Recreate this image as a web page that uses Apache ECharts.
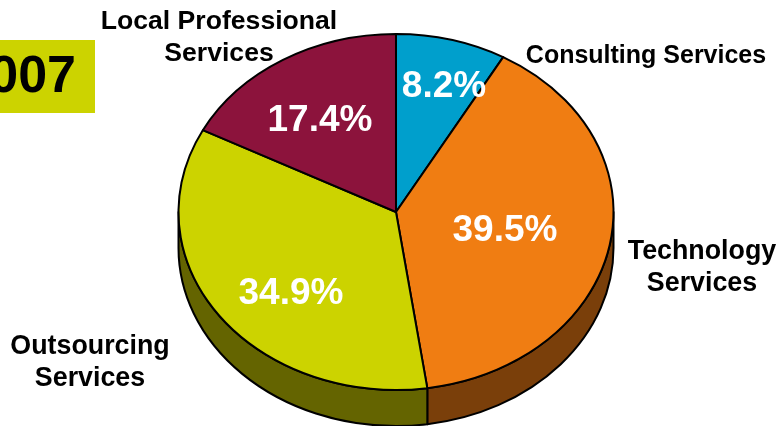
<!DOCTYPE html>
<html>
<head>
<meta charset="utf-8">
<style>html,body{margin:0;padding:0;background:#fff}#chart{width:784px;height:426px}</style>
<script src="https://cdn.jsdelivr.net/npm/echarts@6/dist/echarts.min.js"></script>
</head>
<body>
<div id="chart"></div>
<script>
// Revenue mix by service line, 2007
const categories = ['Consulting Services', 'Technology\nServices', 'Outsourcing\nServices', 'Local Professional\nServices'];
const shares = [8.2, 39.5, 34.9, 17.4];
const yearLabel = '2007';

const topColors = ['#009FCC', '#F07D12', '#CCD300', '#8C133C'];
const wallColors = ['#005F7A', '#7A3F0A', '#646400', '#4A0A20'];

// Tilted disc geometry
const cx = 396, cy = 212, rx = 217.5, ry = 178, depth = 36;
const total = shares.reduce((a, b) => a + b, 0);

const point = (deg, dy = 0) => {
  const t = deg * Math.PI / 180;
  return [cx + rx * Math.sin(t), cy - ry * Math.cos(t) + dy];
};
const startAngle = i => shares.slice(0, i).reduce((a, b) => a + b, 0) / total * 360;
const endAngle = i => startAngle(i) + shares[i] / total * 360;
const fmt = p => p[0].toFixed(2) + ' ' + p[1].toFixed(2);

const sectorPath = (a, b) => {
  const large = b - a > 180 ? 1 : 0;
  return `M${cx} ${cy}L${fmt(point(a))}A${rx} ${ry} 0 ${large} 1 ${fmt(point(b))}Z`;
};
const wallPath = (a, b) => {
  const large = b - a > 180 ? 1 : 0;
  return `M${fmt(point(a))}A${rx} ${ry} 0 ${large} 1 ${fmt(point(b))}` +
         `L${fmt(point(b, depth))}A${rx} ${ry} 0 ${large} 0 ${fmt(point(a, depth))}Z`;
};

// Placement and size of the percentage and category captions
const valueAnchors = [[444, 87], [505, 231], [291, 294], [320, 121]];
const nameAnchors = [[646, 56], [702, 268], [90, 363], [219, 38]];
const nameSizes = [25, 26.8, 26.8, 26.6];

const fontFamily = '"Liberation Sans", Arial, sans-serif';
const rows = shares.map((v, i) => [i, v]);

const option = {
  backgroundColor: '#fff',
  animation: false,
  graphic: [
    { type: 'rect', z: 1, shape: { x: -2, y: 40, width: 97, height: 73 }, style: { fill: '#CCD300' } },
    { type: 'text', z: 2, x: 76, y: 78, style: {
        text: yearLabel, fill: '#000', font: 'bold 52px ' + fontFamily,
        textAlign: 'right', textVerticalAlign: 'middle' } }
  ],
  series: [
    {
      // Visible rim of the disc: only the front half, from 90 to 270 degrees
      type: 'custom', coordinateSystem: 'none', z: 2, silent: true, data: rows,
      renderItem(params, api) {
        const i = api.value(0);
        const a = Math.max(startAngle(i), 90), b = Math.min(endAngle(i), 270);
        if (b <= a) return null;
        return { type: 'path', shape: { pathData: wallPath(a, b) },
          style: { fill: wallColors[i], stroke: '#000', lineWidth: 2, lineJoin: 'round' } };
      }
    },
    {
      type: 'custom', coordinateSystem: 'none', z: 3, silent: true, data: rows,
      renderItem(params, api) {
        const i = api.value(0);
        return { type: 'path', shape: { pathData: sectorPath(startAngle(i), endAngle(i)) },
          style: { fill: topColors[i], stroke: '#000', lineWidth: 2, lineJoin: 'round' } };
      }
    },
    {
      type: 'custom', coordinateSystem: 'none', z: 4, silent: true, data: rows,
      renderItem(params, api) {
        const i = api.value(0);
        return { type: 'group', children: [
          { type: 'text', x: valueAnchors[i][0], y: valueAnchors[i][1], style: {
              text: api.value(1).toFixed(1) + '%', fill: '#fff', font: 'bold 37px ' + fontFamily,
              textAlign: 'center', textVerticalAlign: 'middle' } },
          { type: 'text', x: nameAnchors[i][0], y: nameAnchors[i][1], style: {
              text: categories[i], fill: '#000', font: 'bold ' + nameSizes[i] + 'px ' + fontFamily, lineHeight: 32,
              textAlign: 'center', textVerticalAlign: 'middle' } }
        ] };
      }
    }
  ]
};

echarts.init(document.getElementById('chart'), null, { renderer: 'canvas' }).setOption(option);
</script>
</body>
</html>
